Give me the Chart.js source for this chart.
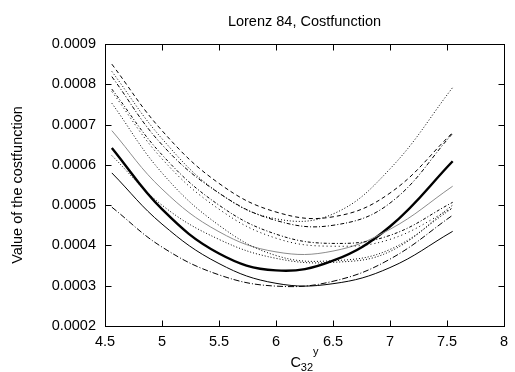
<!DOCTYPE html>
<html>
<head>
<meta charset="utf-8">
<script src="https://cdn.jsdelivr.net/npm/chart.js@4.4.1/dist/chart.umd.min.js"></script>
<style>
html, body { margin: 0; padding: 0; background: #fff; }
</style>
</head>
<body>
<canvas id="costChart" width="515" height="372"></canvas>
<script>
const xValues = [4.56, 5.0, 5.5, 6.0, 6.5, 7.0, 7.55];

// one array per curve, top to bottom at the left edge
const curveA = [0.000850, 0.000685, 0.000554, 0.000483, 0.000471, 0.000530, 0.000680];
const curveB = [0.000832, 0.000665, 0.000530, 0.000466, 0.000478, 0.000590, 0.000792];
const curveC = [0.000819, 0.000650, 0.000530, 0.000462, 0.000450, 0.000505, 0.000678];
const curveD = [0.000788, 0.000625, 0.000500, 0.000428, 0.000405, 0.000425, 0.000507];
const curveE = [0.000782, 0.000615, 0.000490, 0.000418, 0.000398, 0.000415, 0.000493];
const curveF = [0.000753, 0.000580, 0.000450, 0.000375, 0.000362, 0.000390, 0.000493];
const curveG = [0.000685, 0.000540, 0.000434, 0.000384, 0.000386, 0.000440, 0.000547];
const curveH = [0.000642, 0.000490, 0.000380, 0.000338, 0.000362, 0.000447, 0.000609];
const curveI = [0.000623, 0.000500, 0.000415, 0.000368, 0.000358, 0.000385, 0.000500];
const curveJ = [0.000580, 0.000453, 0.000355, 0.000306, 0.000305, 0.000345, 0.000435];
const curveK = [0.000495, 0.000396, 0.000327, 0.000299, 0.000311, 0.000366, 0.000475];

const xTickLabels = ['4.5', '5', '5.5', '6', '6.5', '7', '7.5', '8'];
const yTickLabels = ['0.0002', '0.0003', '0.0004', '0.0005', '0.0006', '0.0007', '0.0008', '0.0009'];

const FONT = 'Liberation Sans, Arial, Helvetica, sans-serif';

function makeSet(label, values, color, width, dash) {
    return {
        label: label,
        data: xValues.map(function(x, i) { return { x: x, y: values[i] }; }),
        showLine: true,
        borderColor: color,
        borderWidth: width,
        borderDash: dash,
        pointRadius: 0,
        tension: 0.4,
        fill: false
    };
}

// gnuplot style frame with inward ticks on all sides, title and the x axis title
const framePlugin = {
    id: 'frame',
    afterDraw: function(chart) {
        let ctx = chart.ctx;
        let a = chart.chartArea;
        let xs = chart.scales.x, ys = chart.scales.y;
        let L = Math.round(a.left) + 0.5, R = Math.round(a.right) + 0.5;
        let T = Math.round(a.top) + 0.5, B = Math.round(a.bottom) + 0.5;
        ctx.save();
        ctx.strokeStyle = '#000';
        ctx.lineWidth = 1;
        ctx.setLineDash([]);
        ctx.strokeRect(L, T, R - L, B - T);
        ctx.beginPath();
        xs.ticks.forEach(function(t) {
            let px = Math.round(xs.getPixelForValue(t.value)) + 0.5;
            ctx.moveTo(px, B); ctx.lineTo(px, B - 6);
            ctx.moveTo(px, T); ctx.lineTo(px, T + 6);
        });
        ys.ticks.forEach(function(t) {
            let py = Math.round(ys.getPixelForValue(t.value)) + 0.5;
            ctx.moveTo(L, py); ctx.lineTo(L + 6, py);
            ctx.moveTo(R, py); ctx.lineTo(R - 6, py);
        });
        ctx.stroke();

        let cx = (a.left + a.right) / 2;
        ctx.fillStyle = '#000';

        // chart title, centred over the plot area
        ctx.textAlign = 'center';
        ctx.textBaseline = 'middle';
        ctx.font = '14.5px ' + FONT;
        ctx.fillText('Lorenz 84, Costfunction', cx, 22);

        // C_32^y
        ctx.textBaseline = 'alphabetic';
        ctx.textAlign = 'left';
        let wC = ctx.measureText('C').width;
        ctx.font = '11px ' + FONT;
        let wSub = ctx.measureText('32').width;
        let wSup = ctx.measureText('y').width;
        let x0 = cx - (wC + wSub + wSup) / 2;
        ctx.font = '14.5px ' + FONT;
        ctx.fillText('C', x0, 367);
        ctx.font = '11px ' + FONT;
        ctx.fillText('32', x0 + wC, 371);
        ctx.fillText('y', x0 + wC + wSub, 355);
        ctx.restore();
    }
};

let ctx = document.getElementById('costChart').getContext('2d');
let costChart = new Chart(ctx, {
    type: 'scatter',
    data: {
        datasets: [
            makeSet('A', curveA, '#000', 1, [4, 3]),
            makeSet('B', curveB, '#000', 1, [1, 2]),
            makeSet('C', curveC, '#000', 1, [4, 2, 1, 2]),
            makeSet('D', curveD, '#000', 1, [3, 2, 1, 2]),
            makeSet('E', curveE, '#000', 1, [1, 3]),
            makeSet('F', curveF, '#000', 1, [1, 2]),
            makeSet('G', curveG, '#8c8c8c', 1, []),
            makeSet('H', curveH, '#000', 2.4, []),
            makeSet('I', curveI, '#000', 1, [1, 2]),
            makeSet('J', curveJ, '#000', 1, []),
            makeSet('K', curveK, '#000', 1, [6, 2, 1, 2])
        ]
    },
    options: {
        responsive: false,
        animation: false,
        layout: { padding: { left: 0, right: 7, top: 44, bottom: 0 } },
        plugins: {
            legend: { display: false },
            tooltip: { enabled: false },
            title: { display: false }
        },
        scales: {
            x: {
                type: 'linear',
                min: 4.5,
                max: 8,
                grid: { display: false, drawTicks: false },
                border: { display: false },
                ticks: {
                    stepSize: 0.5,
                    padding: 7,
                    color: '#000',
                    font: { family: FONT, size: 14.5 },
                    maxRotation: 0,
                    callback: function(v, i) { return xTickLabels[i]; }
                },
                afterFit: function(scale) { scale.height = 46; }
            },
            y: {
                type: 'linear',
                min: 0.0002,
                max: 0.0009,
                grid: { display: false, drawTicks: false },
                border: { display: false },
                ticks: {
                    stepSize: 0.0001,
                    padding: 9,
                    color: '#000',
                    font: { family: FONT, size: 14.5 },
                    callback: function(v, i) { return yTickLabels[i]; }
                },
                title: {
                    display: true,
                    text: 'Value of the costfunction',
                    color: '#000',
                    font: { family: FONT, size: 14.5 },
                    padding: { top: 9, bottom: 0 }
                },
                afterFit: function(scale) { scale.width = 105; }
            }
        }
    },
    plugins: [framePlugin]
});
</script>
</body>
</html>
